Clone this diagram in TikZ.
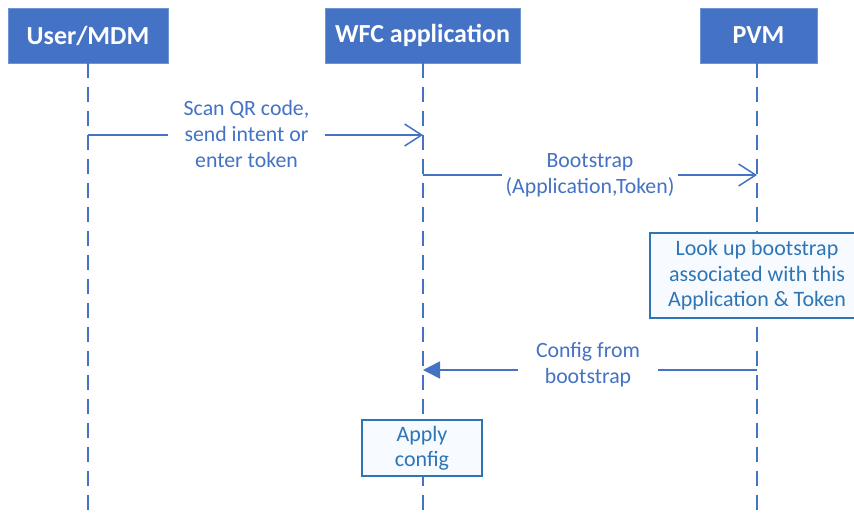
\documentclass[tikz,border=0pt]{standalone}
\usepackage{fontspec}
\setmainfont{Carlito}
\usetikzlibrary{arrows.meta}
\definecolor{hdr}{HTML}{4472C4}
\definecolor{hdrline}{HTML}{6F93D3}
\definecolor{act}{HTML}{2E75B6}
\definecolor{actfill}{HTML}{F7FBFF}
\begin{document}
\begin{tikzpicture}[x=1pt,y=-1pt,
  head/.style={draw=hdrline, fill=hdr, text=white, line width=0.8pt,
    font=\fontsize{26}{30}\selectfont\bfseries, minimum height=55pt, inner sep=0pt},
  lifeline/.style={draw=hdr, line width=1.5pt, dash pattern=on 15pt off 9pt},
  msg/.style={draw=hdr, line width=1.5pt},
  msglabel/.style={text=hdr, fill=white, align=center, inner sep=0pt,
    font=\fontsize{21.8}{26}\selectfont},
  activity/.style={draw=act, fill=actfill, line width=2pt, text=act, align=center,
    inner sep=0pt, font=\fontsize{22}{25.5}\selectfont}
]
\useasboundingbox (0,0) rectangle (854,514);

% participants
\node[head, minimum width=160pt] (user) at (88,35.5) {User/MDM};
\node[head, minimum width=195pt] (wfc) at (422.5,35.5) {WFC application};
\node[head, minimum width=117pt] (pvm) at (758.5,35.5) {PVM};

% lifelines
\coordinate (userTop) at (88,63);
\coordinate (wfcTop) at (423,63);
\coordinate (pvmTop) at (757,63);
\coordinate (userEnd) at (88,514);
\coordinate (wfcEnd) at (423,514);
\coordinate (pvmEnd) at (757,514);
\draw[lifeline] (userTop) -- (userEnd);
\draw[lifeline] (wfcTop) -- (wfcEnd);
\draw[lifeline] (pvmTop) -- (pvmEnd);

% message anchors on the lifelines
\coordinate (m1a) at (88,135);
\coordinate (m1b) at (423,135);
\coordinate (m2a) at (423,175);
\coordinate (m2b) at (757,175);
\coordinate (m3a) at (757,370);
\coordinate (m3b) at (423,370);

% messages
\draw[msg, -{Straight Barb[length=17pt, width=22pt, line width=1.5pt]}] (m1a) -- (m1b);
\node[msglabel, minimum width=157pt] (l1) at (246.5,134) {Scan QR code,\\send intent or\\enter token};

\draw[msg, -{Straight Barb[length=17pt, width=22pt, line width=1.5pt]}] (m2a) -- (m2b);
\node[msglabel, minimum width=176pt] (l2) at (590,175.5) {Bootstrap\\(Application,Token)};

\draw[msg, -{Triangle[length=17pt, width=17pt]}] (m3a) -- (m3b);
\node[msglabel, minimum width=140pt] (l3) at (588,365) {Config from\\bootstrap};

% activities
\node[activity, minimum width=214pt, minimum height=85pt] (lookup) at (757,275.5)
  {Look up bootstrap\\associated with this\\Application \& Token};
\node[activity, minimum width=120pt, minimum height=56pt] (apply) at (422,448)
  {Apply\\config};
\end{tikzpicture}
\end{document}
